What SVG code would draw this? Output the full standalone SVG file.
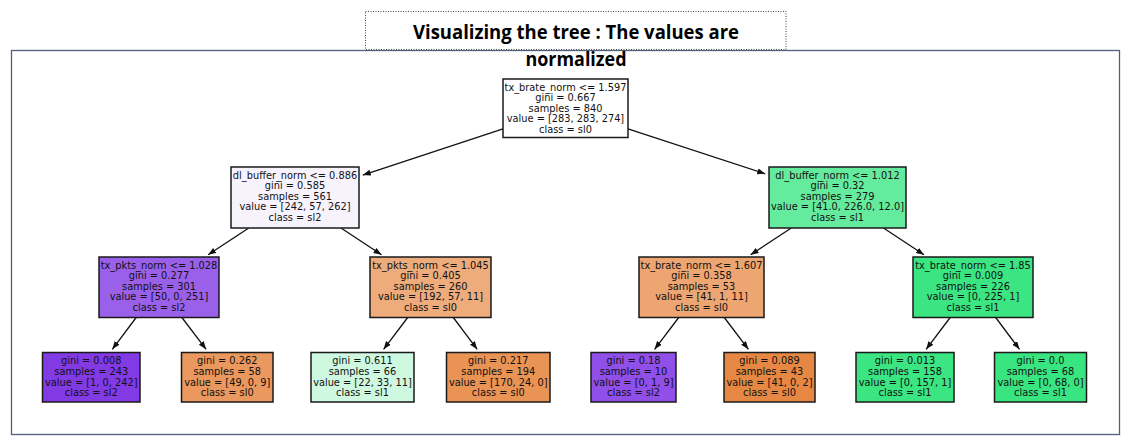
<svg xmlns="http://www.w3.org/2000/svg" width="1129" height="448" viewBox="0 0 1129 448">
<defs>
<style>
.frame{fill:none;stroke:#51607a;stroke-width:1.3}
.tbox{fill:#ffffff;stroke:#444;stroke-width:1;stroke-dasharray:1 1.5}
.title{font-family:"Open Sans","Liberation Sans",Arial,sans-serif;font-weight:bold;font-size:20px;fill:#000;text-anchor:middle}
.box{stroke:#1a1a1a;stroke-width:1.5}
.t{font-family:"DejaVu Sans",Verdana,sans-serif;font-size:9.8px;fill:#111;text-anchor:middle}
.edge{stroke:#111;stroke-width:1.3;fill:none;marker-end:url(#ah)}
</style>
<marker id="ah" markerUnits="userSpaceOnUse" markerWidth="10" markerHeight="8" refX="8" refY="3" orient="auto" viewBox="0 0 10 8">
<path d="M0,0 L8,3 L0,6 z" fill="#111"/>
</marker>
</defs>
<rect width="1129" height="448" fill="#ffffff"/>
<rect class="frame" x="11.5" y="50.5" width="1108" height="384"/>
<rect class="tbox" x="365.5" y="11.5" width="420.5" height="38"/>
<text class="title" x="576" y="39" textLength="326" lengthAdjust="spacingAndGlyphs">Visualizing the tree : The values are</text>
<text class="title" x="576" y="66" textLength="101" lengthAdjust="spacingAndGlyphs">normalized</text>

<g id="connectors">
<line class="edge" x1="503" y1="128.9" x2="362.8" y2="175.1"/>
<line class="edge" x1="628" y1="128.8" x2="765.2" y2="173.8"/>
<line class="edge" x1="248.8" y1="228" x2="208.1" y2="254.8"/>
<line class="edge" x1="341" y1="228" x2="381.5" y2="254.8"/>
<line class="edge" x1="791.3" y1="228" x2="750.6" y2="254.8"/>
<line class="edge" x1="883.5" y1="228" x2="924" y2="254.8"/>
<line class="edge" x1="136.2" y1="317.5" x2="112.3" y2="349.3"/>
<line class="edge" x1="181.9" y1="317.5" x2="206.1" y2="349.3"/>
<line class="edge" x1="407.7" y1="317.5" x2="383.6" y2="349.3"/>
<line class="edge" x1="453.3" y1="317.5" x2="477.2" y2="349.3"/>
<line class="edge" x1="678.7" y1="317.5" x2="654.6" y2="349.3"/>
<line class="edge" x1="724.3" y1="317.5" x2="748.4" y2="349.3"/>
<line class="edge" x1="950.2" y1="317.5" x2="926.1" y2="349.3"/>
<line class="edge" x1="995.7" y1="317.5" x2="1019.5" y2="349.3"/>
</g>

<g id="root">
<rect class="box" x="503" y="79" width="125" height="58.5" fill="#ffffff"/>
<text class="t" x="565.5" y="90.5">tx_brate_norm &lt;= 1.597</text>
<text class="t" x="565.5" y="101.1">gini = 0.667</text>
<text class="t" x="565.5" y="111.7">samples = 840</text>
<text class="t" x="565.5" y="122.3">value = [283, 283, 274]</text>
<text class="t" x="565.5" y="132.9">class = sl0</text>
</g>

<g id="n_dl_buffer_0886">
<rect class="box" x="231" y="167" width="128" height="61" fill="#f7f3fd"/>
<text class="t" x="295" y="178.5">dl_buffer_norm &lt;= 0.886</text>
<text class="t" x="295" y="189.1">gini = 0.585</text>
<text class="t" x="295" y="199.7">samples = 561</text>
<text class="t" x="295" y="210.3">value = [242, 57, 262]</text>
<text class="t" x="295" y="220.9">class = sl2</text>
</g>

<g id="n_dl_buffer_1012">
<rect class="box" x="769" y="167" width="137" height="61" fill="#65eb9d"/>
<text class="t" x="837.5" y="178.5">dl_buffer_norm &lt;= 1.012</text>
<text class="t" x="837.5" y="189.1">gini = 0.32</text>
<text class="t" x="837.5" y="199.7">samples = 279</text>
<text class="t" x="837.5" y="210.3">value = [41.0, 226.0, 12.0]</text>
<text class="t" x="837.5" y="220.9">class = sl1</text>
</g>

<g id="n_tx_pkts_1028">
<rect class="box" x="99" y="257" width="120" height="60.5" fill="#9a60ea"/>
<text class="t" x="159" y="268.5">tx_pkts_norm &lt;= 1.028</text>
<text class="t" x="159" y="279.1">gini = 0.277</text>
<text class="t" x="159" y="289.7">samples = 301</text>
<text class="t" x="159" y="300.3">value = [50, 0, 251]</text>
<text class="t" x="159" y="310.9">class = sl2</text>
</g>

<g id="n_tx_pkts_1045">
<rect class="box" x="370" y="257" width="121" height="60.5" fill="#eeab7b"/>
<text class="t" x="430.5" y="268.5">tx_pkts_norm &lt;= 1.045</text>
<text class="t" x="430.5" y="279.1">gini = 0.405</text>
<text class="t" x="430.5" y="289.7">samples = 260</text>
<text class="t" x="430.5" y="300.3">value = [192, 57, 11]</text>
<text class="t" x="430.5" y="310.9">class = sl0</text>
</g>

<g id="n_tx_brate_1607">
<rect class="box" x="639" y="257" width="125" height="60.5" fill="#eda572"/>
<text class="t" x="701.5" y="268.5">tx_brate_norm &lt;= 1.607</text>
<text class="t" x="701.5" y="279.1">gini = 0.358</text>
<text class="t" x="701.5" y="289.7">samples = 53</text>
<text class="t" x="701.5" y="300.3">value = [41, 1, 11]</text>
<text class="t" x="701.5" y="310.9">class = sl0</text>
</g>

<g id="n_tx_brate_185">
<rect class="box" x="913" y="257" width="120" height="60.5" fill="#3ae582"/>
<text class="t" x="973" y="268.5">tx_brate_norm &lt;= 1.85</text>
<text class="t" x="973" y="279.1">gini = 0.009</text>
<text class="t" x="973" y="289.7">samples = 226</text>
<text class="t" x="973" y="300.3">value = [0, 225, 1]</text>
<text class="t" x="973" y="310.9">class = sl1</text>
</g>

<g id="leaf1">
<rect class="box" x="42.5" y="352.5" width="97.5" height="49.5" fill="#823ae5"/>
<text class="t" x="91.25" y="364.2">gini = 0.008</text>
<text class="t" x="91.25" y="374.9">samples = 243</text>
<text class="t" x="91.25" y="385.5">value = [1, 0, 242]</text>
<text class="t" x="91.25" y="396.2">class = sl2</text>
</g>

<g id="leaf2">
<rect class="box" x="181.5" y="352.5" width="91.5" height="49.5" fill="#ea985d"/>
<text class="t" x="227.25" y="364.2">gini = 0.262</text>
<text class="t" x="227.25" y="374.9">samples = 58</text>
<text class="t" x="227.25" y="385.5">value = [49, 0, 9]</text>
<text class="t" x="227.25" y="396.2">class = sl0</text>
</g>

<g id="leaf3">
<rect class="box" x="311" y="352.5" width="103" height="49.5" fill="#cef8e0"/>
<text class="t" x="362.5" y="364.2">gini = 0.611</text>
<text class="t" x="362.5" y="374.9">samples = 66</text>
<text class="t" x="362.5" y="385.5">value = [22, 33, 11]</text>
<text class="t" x="362.5" y="396.2">class = sl1</text>
</g>

<g id="leaf4">
<rect class="box" x="446.5" y="352.5" width="103.5" height="49.5" fill="#e99355"/>
<text class="t" x="498.25" y="364.2">gini = 0.217</text>
<text class="t" x="498.25" y="374.9">samples = 194</text>
<text class="t" x="498.25" y="385.5">value = [170, 24, 0]</text>
<text class="t" x="498.25" y="396.2">class = sl0</text>
</g>

<g id="leaf5">
<rect class="box" x="591" y="352.5" width="85" height="49.5" fill="#8f4fe8"/>
<text class="t" x="633.5" y="364.2">gini = 0.18</text>
<text class="t" x="633.5" y="374.9">samples = 10</text>
<text class="t" x="633.5" y="385.5">value = [0, 1, 9]</text>
<text class="t" x="633.5" y="396.2">class = sl2</text>
</g>

<g id="leaf6">
<rect class="box" x="724" y="352.5" width="91" height="49.5" fill="#e68743"/>
<text class="t" x="769.5" y="364.2">gini = 0.089</text>
<text class="t" x="769.5" y="374.9">samples = 43</text>
<text class="t" x="769.5" y="385.5">value = [41, 0, 2]</text>
<text class="t" x="769.5" y="396.2">class = sl0</text>
</g>

<g id="leaf7">
<rect class="box" x="856" y="352.5" width="98" height="49.5" fill="#3ae582"/>
<text class="t" x="905" y="364.2">gini = 0.013</text>
<text class="t" x="905" y="374.9">samples = 158</text>
<text class="t" x="905" y="385.5">value = [0, 157, 1]</text>
<text class="t" x="905" y="396.2">class = sl1</text>
</g>

<g id="leaf8">
<rect class="box" x="994.5" y="352.5" width="92" height="49.5" fill="#39e581"/>
<text class="t" x="1040.5" y="364.2">gini = 0.0</text>
<text class="t" x="1040.5" y="374.9">samples = 68</text>
<text class="t" x="1040.5" y="385.5">value = [0, 68, 0]</text>
<text class="t" x="1040.5" y="396.2">class = sl1</text>
</g>
</svg>
